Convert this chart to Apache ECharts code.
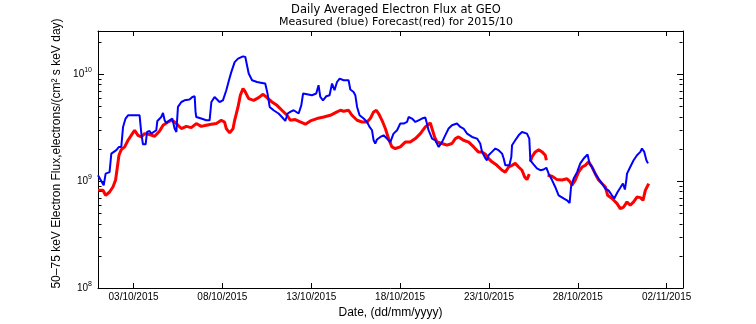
<!DOCTYPE html>
<html><head><meta charset="utf-8">
<script src="https://cdn.jsdelivr.net/npm/echarts@6/dist/echarts.min.js"></script>
<style>html,body{margin:0;padding:0;background:#fff}#c{width:756px;height:324px}</style>
</head><body><div id="c"></div><script>
const titleText = 'Daily Averaged Electron Flux at GEO';
const subtitleText = 'Measured (blue) Forecast(red) for 2015/10';
const xAxisName = 'Date, (dd/mm/yyyy)';
const yAxisName = '50\u201375 keV Electron Flux,electrons/(cm\u00B2 s keV day)';
// x: days since 01/10/2015 00:00
const xMin = 0, xMax = 32.92;
const xTickDays = [2, 7, 12, 17, 22, 27, 32];
const xTickLabels = ['03/10/2015', '08/10/2015', '13/10/2015', '18/10/2015', '23/10/2015', '28/10/2015', '02/11/2015'];
const yMin = 1e8, yMax = 2.52e10;
const yMajorTicks = [1e8, 1e9, 1e10];
const yMinorTicks = [2e8,3e8,4e8,5e8,6e8,7e8,8e8,9e8,2e9,3e9,4e9,5e9,6e9,7e9,8e9,9e9,2e10];

// Measured (blue), flux in units of 1e9
const measuredDays = [
0.00,0.32,0.43,0.65,0.75,1.03,1.18,1.31,1.41,1.55,
1.69,1.97,2.34,2.44,2.53,2.68,2.76,2.90,3.00,3.28,
3.34,3.56,3.66,3.75,3.84,4.03,4.18,4.31,4.41,4.50,
4.69,4.87,5.15,5.31,5.44,5.49,5.53,5.81,6.09,6.28,
6.38,6.56,6.84,7.03,7.22,7.37,7.50,7.69,7.88,8.16,
8.29,8.48,8.67,8.95,9.23,9.41,9.54,9.66,9.88,10.16,
10.35,10.54,10.67,10.82,11.01,11.29,11.44,11.54,11.76,12.04,
12.28,12.41,12.51,12.66,12.85,13.03,13.17,13.31,13.45,13.60,
13.82,14.10,14.20,14.38,14.48,14.58,14.72,14.95,15.14,15.28,
15.42,15.51,15.60,15.70,15.89,16.07,16.26,16.45,16.63,16.83,
17.01,17.20,17.39,17.48,17.67,17.86,18.04,18.23,18.42,18.51,
18.60,18.80,18.98,19.17,19.26,19.36,19.54,19.73,19.92,20.20,
20.39,20.57,20.77,21.05,21.33,21.51,21.61,21.80,21.89,21.98,
22.17,22.36,22.54,22.74,22.83,22.92,23.02,23.15,23.26,23.30,
23.48,23.67,23.86,24.14,24.27,24.33,24.51,24.70,24.89,25.08,
25.23,25.36,25.55,25.73,25.92,26.20,26.39,26.54,26.62,26.76,
26.96,27.14,27.33,27.55,27.66,27.80,27.98,28.17,28.36,28.55,
28.73,28.92,29.05,29.24,29.39,29.54,29.65,29.73,29.77,29.95,
30.14,30.33,30.52,30.61,30.74,30.86,30.95];
const measuredFlux = [
1.13,0.91,1.17,1.21,1.80,1.94,2.08,2.08,3.20,3.83,
4.11,4.11,4.11,2.77,2.20,2.20,2.87,2.93,2.77,2.98,
3.64,3.96,4.32,3.69,3.48,3.69,3.83,3.09,2.87,4.92,
5.47,5.67,5.76,6.10,6.19,4.42,3.96,3.83,3.69,3.69,
5.47,6.10,5.47,5.67,7.05,8.73,10.4,12.9,13.9,14.6,
14.4,10.1,8.73,8.41,8.24,8.13,6.56,4.92,4.58,4.27,
3.96,3.64,4.27,4.42,4.58,4.27,5.09,6.56,6.46,6.33,
6.56,7.84,6.10,5.67,6.19,6.33,8.13,7.05,8.41,9.06,
8.73,8.73,7.15,6.79,6.33,4.92,4.11,3.83,3.56,3.20,
2.98,2.40,2.24,2.44,2.58,2.67,2.49,2.31,2.77,2.98,
3.44,3.44,3.56,3.96,3.83,3.56,3.69,3.83,3.92,3.44,
2.98,2.49,2.40,2.08,2.01,2.31,2.67,3.09,3.32,3.44,
3.20,3.09,2.77,2.58,2.49,2.24,1.87,1.63,1.56,1.74,
1.87,2.01,1.94,1.80,1.62,1.40,1.35,1.40,1.68,2.16,
2.40,2.67,2.87,2.77,2.49,1.56,1.43,1.31,1.26,1.28,
1.33,1.17,1.02,0.879,0.735,0.689,0.660,0.623,0.879,1.05,
1.21,1.46,1.62,1.77,1.46,1.35,1.17,1.05,0.946,0.849,
0.818,0.735,0.685,0.789,0.863,0.946,0.832,1.02,1.17,1.35,
1.56,1.74,1.87,2.01,1.87,1.56,1.46];

// Forecast (red), flux in units of 1e9 (null = gap)
const forecastDays = [
0.00,0.28,0.43,0.65,0.84,0.99,1.09,1.18,1.31,1.50,
1.69,1.87,2.06,2.25,2.44,2.62,2.90,3.19,3.47,3.66,
3.94,4.12,4.31,4.50,4.69,4.97,5.25,5.53,5.81,6.09,
6.38,6.66,6.94,7.12,7.22,7.41,7.60,7.69,7.88,8.01,
8.16,8.29,8.48,8.76,9.04,9.29,9.51,9.79,10.07,10.35,
10.64,10.82,11.10,11.38,11.67,11.95,12.32,12.70,13.07,13.45,
13.64,13.82,14.10,14.29,14.58,14.86,15.14,15.32,15.51,15.66,
15.79,15.98,16.17,16.35,16.54,16.73,17.01,17.29,17.57,17.86,
18.14,18.42,18.70,18.80,18.94,19.08,19.36,19.64,19.92,20.11,
20.29,20.57,20.86,20.95,21.14,21.40,21.61,21.80,21.98,22.17,
22.45,22.74,22.92,23.11,23.30,23.48,23.67,23.86,24.01,24.14,
24.27,24.30,24.33,24.42,24.61,24.80,24.99,25.17,25.23,25.27,
25.30,25.55,25.83,26.11,26.39,26.57,26.67,26.86,27.04,27.24,
27.42,27.61,27.70,27.80,27.98,28.17,28.36,28.55,28.68,28.93,
29.21,29.39,29.58,29.77,29.95,30.14,30.33,30.52,30.67,30.80,
30.99];
const forecastFlux = [
0.818,0.818,0.735,0.789,0.879,1.02,1.35,1.74,1.96,2.08,
2.40,2.67,2.98,2.67,2.58,2.77,2.72,2.62,2.93,3.32,
3.56,3.69,3.56,3.32,3.09,3.24,3.15,3.44,3.24,3.32,
3.39,3.44,3.69,3.56,3.09,2.81,3.09,3.69,4.92,6.33,
7.31,6.79,5.89,5.67,6.01,6.46,6.01,5.47,5.09,4.58,
4.11,3.69,3.75,3.56,3.39,3.64,3.83,3.96,4.11,4.42,
4.58,4.48,4.58,4.11,3.69,3.56,3.56,3.83,4.42,4.58,
4.27,3.69,3.09,2.49,2.08,2.01,2.08,2.31,2.31,2.49,
2.77,3.20,3.48,3.44,2.58,2.31,2.24,2.16,2.24,2.49,
2.58,2.40,2.31,2.24,2.08,1.87,1.87,1.78,1.62,1.51,
1.40,1.26,1.21,1.35,1.40,1.46,1.35,1.26,1.09,1.03,
1.16,null,1.51,1.68,1.87,1.96,1.87,1.74,1.56,null,
1.13,1.11,1.03,1.02,1.05,0.980,0.912,1.02,1.21,1.35,
1.40,1.51,1.56,1.35,1.17,1.02,0.946,0.879,0.735,0.685,
0.615,0.552,0.571,0.637,0.593,0.637,0.708,0.699,0.660,0.818,
0.946];

const FONT = "'Liberation Sans', Arial, Helvetica, sans-serif";
const WIDE = "'DejaVu Sans', 'Liberation Sans', sans-serif";
const toPairs = (xs, ys) => xs.map((x, i) => [x, ys[i] == null ? null : ys[i] * 1e9]);

const chart = echarts.init(document.getElementById('c'), null, {renderer: 'canvas'});
const gridRect = {left: 98, right: 73, top: 31, bottom: 36, outerBoundsMode: 'none', containLabel: false};
const yCommon = {type: 'log', logBase: 10, min: yMin, max: yMax, splitLine: {show: false}, minorTick: {show: false}, minorSplitLine: {show: false}};
const xCommon = {type: 'value', min: xMin, max: xMax, splitLine: {show: false}, minorTick: {show: false}};
const blackLine = {show: true, onZero: false, lineStyle: {color: '#000', width: 1}};
const tickStyle = {color: '#000', width: 1};

// minor log ticks on both vertical frame edges, positioned through the axes' own scales
function renderMinorTick(params, api) {
  const left = api.coord([xMin, api.value(1)]);
  const right = api.coord([xMax, api.value(1)]);
  const y = Math.round(left[1]) + 0.5;
  const xl = Math.round(left[0]) + 0.5, xr = Math.round(right[0]) - 0.5;
  return {type: 'group', children: [
    {type: 'line', shape: {x1: xl, y1: y, x2: xl + 3, y2: y}, style: {stroke: '#000', lineWidth: 1}},
    {type: 'line', shape: {x1: xr - 3, y1: y, x2: xr, y2: y}, style: {stroke: '#000', lineWidth: 1}}
  ]};
}

chart.setOption({
  animation: false,
  backgroundColor: '#fff',
  title: {
    text: titleText, subtext: subtitleText, left: 391, top: -1, textAlign: 'center', itemGap: 1,
    textStyle: {fontFamily: WIDE, fontSize: 11.5, fontWeight: 'normal', color: '#000'},
    subtextStyle: {fontFamily: WIDE, fontSize: 11, color: '#000'}
  },
  grid: gridRect,
  xAxis: [
    Object.assign({}, xCommon, {position: 'bottom', axisLine: blackLine,
      axisTick: {show: true, inside: true, length: 5, customValues: xTickDays, lineStyle: tickStyle},
      axisLabel: {show: true, customValues: xTickDays, margin: 4, color: '#000', fontFamily: FONT, fontSize: 10,
        formatter: v => { const i = xTickDays.indexOf(v); return i >= 0 ? xTickLabels[i] : ''; }},
      name: xAxisName, nameLocation: 'middle', nameGap: 16,
      nameTextStyle: {fontFamily: FONT, fontSize: 12, color: '#000', verticalAlign: 'top'}}),
    Object.assign({}, xCommon, {position: 'top', axisLine: blackLine,
      axisTick: {show: true, inside: true, length: 5, customValues: xTickDays, lineStyle: tickStyle},
      axisLabel: {show: false}})
  ],
  yAxis: [
    Object.assign({}, yCommon, {position: 'left', axisLine: blackLine,
      axisTick: {show: true, inside: true, length: 6, customValues: yMajorTicks, lineStyle: tickStyle},
      axisLabel: {show: true, customValues: yMajorTicks, margin: 6, color: '#000', fontFamily: FONT,
        formatter: v => '{b|10}{e|' + Math.round(Math.log10(v)) + '}',
        rich: {b: {fontFamily: FONT, fontSize: 10, color: '#000'}, e: {fontFamily: FONT, fontSize: 7, color: '#000', padding: [0, 0, 7, 0]}}},
      name: yAxisName, nameLocation: 'middle', nameGap: 25, nameRotate: 90,
      nameTextStyle: {fontFamily: FONT, fontSize: 12, color: '#000', padding: [0, 0, 0, 12]}}),
    Object.assign({}, yCommon, {position: 'right', axisLine: blackLine,
      axisTick: {show: true, inside: true, length: 6, customValues: yMajorTicks, lineStyle: tickStyle},
      axisLabel: {show: false}})
  ],
  series: [
    {type: 'line', name: 'Forecast', xAxisIndex: 0, yAxisIndex: 0, data: toPairs(forecastDays, forecastFlux),
      symbol: 'none', showSymbol: false, connectNulls: false, lineStyle: {color: '#ff0000', width: 3}, itemStyle: {color: '#ff0000'}, z: 2},
    {type: 'line', name: 'Measured', xAxisIndex: 0, yAxisIndex: 0, data: toPairs(measuredDays, measuredFlux),
      symbol: 'none', showSymbol: false, lineStyle: {color: '#0000ff', width: 2}, itemStyle: {color: '#0000ff'}, z: 3},
    {type: 'custom', name: 'minorTicks', xAxisIndex: 0, yAxisIndex: 0, silent: true, clip: false, z: 4,
      data: yMinorTicks.map(v => [xMin, v]), encode: {x: 0, y: 1}, renderItem: renderMinorTick}
  ]
});
</script></body></html>
